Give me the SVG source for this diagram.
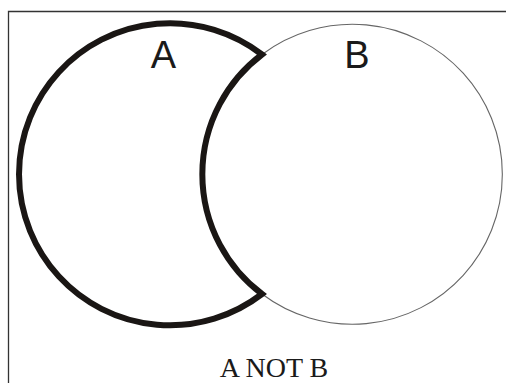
<svg xmlns="http://www.w3.org/2000/svg" width="506" height="383" viewBox="0 0 506 383">
<style>
.frame{stroke:#333;stroke-width:1.3;fill:none}
.thick{stroke:#1a1614;stroke-width:6;fill:none;stroke-linejoin:miter}
.thin{stroke:#666;stroke-width:1.1;fill:none}
.lbl{font-family:"Liberation Sans",Arial,sans-serif;font-size:38px;fill:#1a1a1a;text-anchor:middle}
.cap{font-family:"Liberation Serif","Times New Roman",serif;font-size:28px;fill:#1a1a1a;text-anchor:middle}
</style>
<rect width="506" height="383" fill="#fff"/>
<path class="frame" d="M8.5 383 V11.5 H506"/>
<g id="circleB">
<path class="thin" d="M262 54.5 A150 150 0 1 1 262 294"/>
<text class="lbl" x="357" y="68">B</text>
</g>
<g id="circleA">
<path class="thick" d="M262 54.5 A151 151 0 1 0 262 294 A150 150 0 0 1 262 54.5 Z"/>
<text class="lbl" x="163.5" y="68">A</text>
</g>
<text id="caption" class="cap" x="274" y="377">A NOT B</text>
</svg>
